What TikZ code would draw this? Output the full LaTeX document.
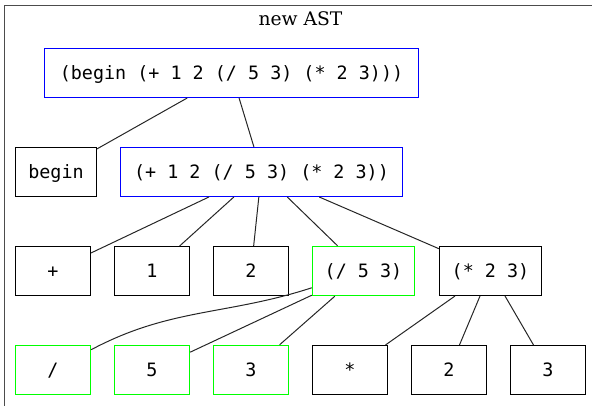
\documentclass[tikz,border=0pt]{standalone}
\usepackage{fontspec}
\setmonofont{DejaVu Sans Mono}
\newfontfamily\titlefont{DejaVu Serif}
\definecolor{B}{rgb}{0,0,1}
\definecolor{G}{rgb}{0,1,0}
\tikzstyle{base}=[x=1pt, y=-1pt, line width=1pt]
\tikzstyle{ast}=[draw=black, inner sep=0pt, minimum height=49pt, text height=13.5pt, text depth=0pt, font=\ttfamily\fontsize{18.4}{20}\selectfont]
\tikzstyle{leaf}=[ast, minimum width=75pt]
\tikzstyle{blueast}=[draw=B]
\tikzstyle{greenast}=[draw=G, line width=1.4pt]
\tikzstyle{edge}=[black!85, line width=1pt]

\begin{document}
\begin{tikzpicture}[base]
    \path [use as bounding box] (0,0) rectangle (592,405);
    \clip (0,0) rectangle (592,405);
    % cluster
    \draw [black!70, line width=1.5pt] (4.5,5.5) rectangle (596.5,420);
    \node [anchor=base, font=\titlefont\fontsize{18.7}{20}\selectfont] (title) at (300.5,25) {new AST};
    % nodes
    \node [ast, blueast, minimum width=374pt] (root) at (231.5,73) {(begin (+ 1 2 (/ 5 3) (* 2 3)))};
    \node [ast, minimum width=81pt] (beginkw) at (56,172) {begin};
    \node [ast, blueast, minimum width=282pt] (addexpr) at (261.5,172) {(+ 1 2 (/ 5 3) (* 2 3))};
    \node [leaf] (plus) at (53,271) {+};
    \node [leaf] (one) at (152,271) {1};
    \node [leaf] (two) at (251,271) {2};
    \node [ast, greenast, minimum width=102pt] (divexpr) at (363.5,271) {(/ 5 3)};
    \node [ast, minimum width=102pt] (mulexpr) at (490.5,271) {(* 2 3)};
    \node [leaf, greenast] (divop) at (53,370) {/};
    \node [leaf, greenast] (five) at (152,370) {5};
    \node [leaf, greenast] (three) at (251,370) {3};
    \node [leaf] (mulop) at (350,370) {*};
    \node [leaf] (twob) at (449,370) {2};
    \node [leaf] (threeb) at (548,370) {3};
    % edges
    \draw [edge] (root) -- (beginkw);
    \draw [edge] (root) -- (addexpr);
    \foreach \n in {plus,one,two,divexpr,mulexpr}
        \draw [edge] (addexpr) -- (\n);
    \draw [edge] (divexpr) to[out=198, in=28] (divop);
    \draw [edge] (divexpr) -- (five);
    \draw [edge] (divexpr) -- (three);
    \foreach \n in {mulop,twob,threeb}
        \draw [edge] (mulexpr) -- (\n);
\end{tikzpicture}
\end{document}
